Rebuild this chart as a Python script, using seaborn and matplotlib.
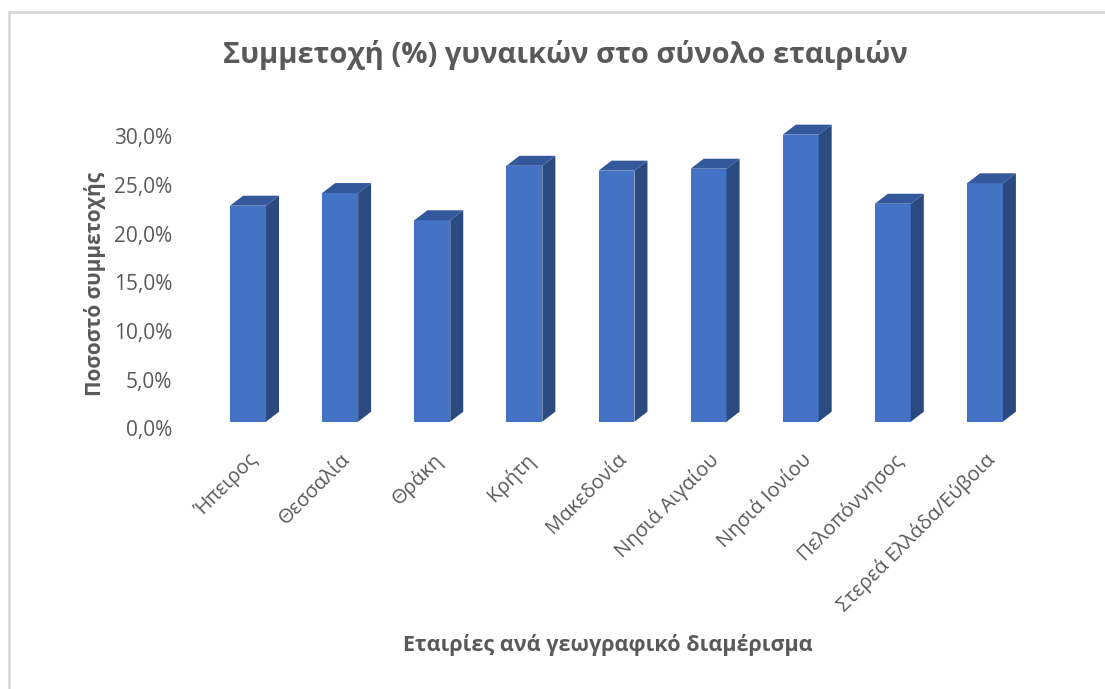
import pandas as pd
import matplotlib.pyplot as plt
import seaborn as sns
from matplotlib.patches import Polygon
from matplotlib.transforms import ScaledTranslation, blended_transform_factory

# data (percent)
regions = ['Ήπειρος', 'Θεσσαλία', 'Θράκη', 'Κρήτη', 'Μακεδονία',
           'Νησιά Αιγαίου', 'Νησιά Ιονίου', 'Πελοπόννησος', 'Στερεά Ελλάδα/Εύβοια']
share = [22.2, 23.5, 20.7, 26.3, 25.8, 26.0, 29.5, 22.4, 24.5]
yticks = [0, 5, 10, 15, 20, 25, 30]

title = 'Συμμετοχή (%) γυναικών στο σύνολο εταιριών'
xlabel = 'Εταιρίες ανά γεωγραφικό διαμέρισμα'
ylabel = 'Ποσοστό συμμετοχής'

df = pd.DataFrame({'region': regions, 'share': share})

sns.set_style('white')
plt.rcParams['font.family'] = ['Open Sans', 'DejaVu Sans']
grey = '#595959'
front, side, top = '#4472C4', '#2A4A80', '#33599C'

W, H = 1105, 689
fig = plt.figure(figsize=(W / 100, H / 100), dpi=100)
ax = fig.add_axes([202 / W, 1 - 421.7 / H, 829 / W, 291.9 / H])

sns.barplot(data=df, x='region', y='share', color=front, width=0.39,
            saturation=1, linewidth=0, ax=ax)
ax.set_ylim(0, 30)
ax.set_xlim(-0.5, len(regions) - 0.5)

# fake 3D depth faces, based on each bar's patch
dx = 13 / (829 / len(regions))
dy = 10 / (291.9 / 30)
for p in list(ax.patches):
    x0, h, w = p.get_x(), p.get_height(), p.get_width()
    x1 = x0 + w
    ax.add_patch(Polygon([(x1, 0), (x1, h), (x1 + dx, h + dy), (x1 + dx, dy)],
                         closed=True, facecolor=side, edgecolor='none', clip_on=False))
    ax.add_patch(Polygon([(x0, h), (x0 + dx, h + dy), (x1 + dx, h + dy), (x1, h)],
                         closed=True, facecolor=top, edgecolor='none', clip_on=False))

# y labels sit on the back wall in the original, a little below the bar faces
ax.set_yticks([])
ylab_tr = blended_transform_factory(ax.transAxes, ax.transData) + \
    ScaledTranslation(-30 / 100, -9 / 100, fig.dpi_scale_trans)
for v in yticks:
    ax.text(0, v, f'{v:.1f}%'.replace('.', ','), transform=ylab_tr,
            ha='right', va='center', fontsize=15, color=grey)

ax.set_xticks(range(len(regions)))
ax.set_xticklabels(regions, rotation=45, ha='right', rotation_mode='anchor',
                   fontsize=14.5, color=grey)
xshift = ScaledTranslation(-4 / 100, 0, fig.dpi_scale_trans)
for lab in ax.get_xticklabels():
    lab.set_transform(lab.get_transform() + xshift)
ax.tick_params(axis='x', length=0, pad=20)
ax.set_xlabel('')
ax.set_ylabel('')
sns.despine(ax=ax, left=True, bottom=True)

fig.text(565 / W, 1 - 55 / H, title, ha='center', va='center',
         fontsize=21, fontweight='bold', color=grey)
fig.text(608 / W, 1 - 645 / H, xlabel, ha='center', va='center',
         fontsize=15.5, fontweight='bold', color=grey)
fig.text(95 / W, 1 - 284 / H, ylabel, ha='center', va='center', rotation=90,
         fontsize=15, fontweight='bold', color=grey)

# frame edges visible in the screenshot (top and left)
fig.add_artist(plt.Line2D([9 / W, 1], [1 - 12 / H, 1 - 12 / H], color='#D9D9D9', lw=2))
fig.add_artist(plt.Line2D([9 / W, 9 / W], [0, 1 - 12 / H], color='#D9D9D9', lw=2))

plt.savefig('out.png', dpi=100)
plt.close()
